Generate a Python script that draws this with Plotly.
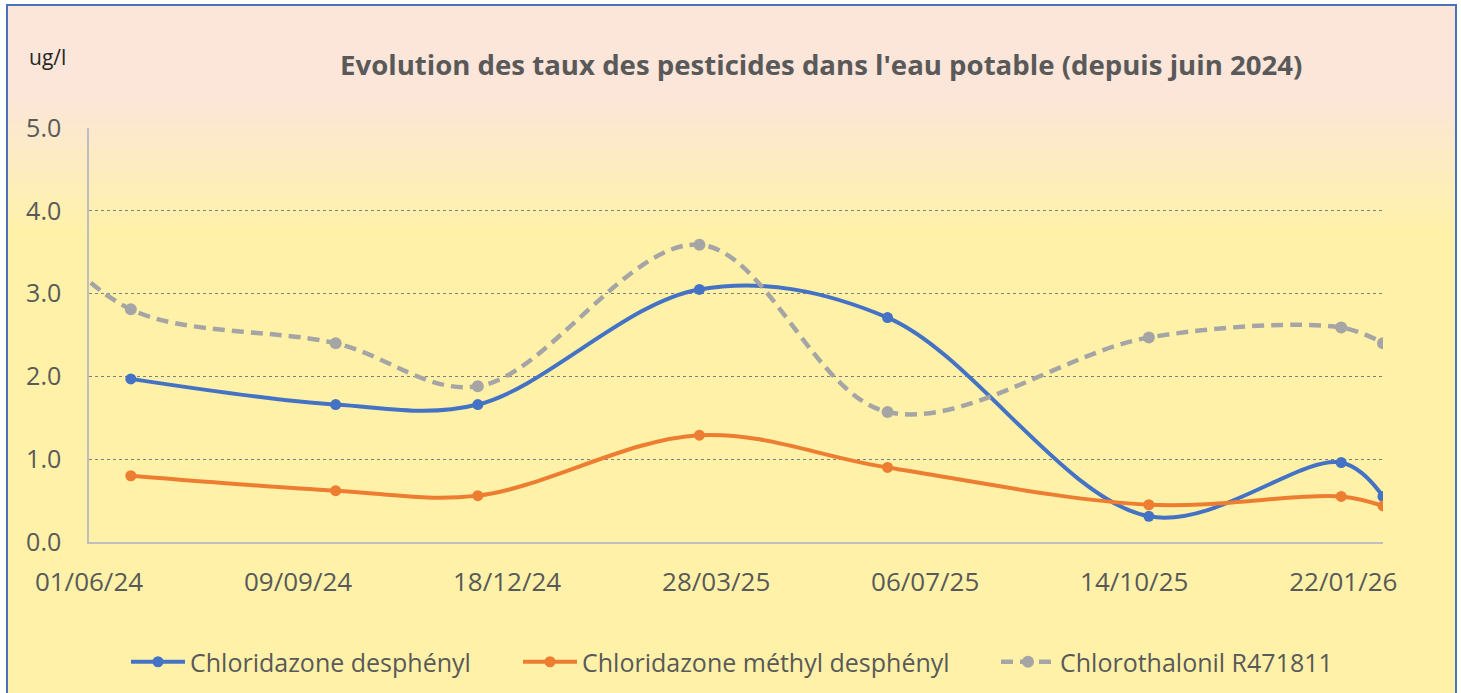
import base64, struct, zlib
import plotly.graph_objects as go

# ---------------- data ----------------
dates = ["2024-06-21", "2024-09-27", "2024-12-04", "2025-03-20",
         "2025-06-18", "2025-10-21", "2026-01-21", "2026-02-10"]
chloridazone_desphenyl = [1.97, 1.66, 1.66, 3.05, 2.71, 0.31, 0.96, 0.55]
chloridazone_methyl = [0.80, 0.62, 0.56, 1.29, 0.90, 0.45, 0.55, 0.435]
chlorothalonil_dates = ["2024-05-01"] + dates
chlorothalonil = [3.95, 2.81, 2.40, 1.88, 3.59, 1.57, 2.47, 2.59, 2.40]

tick_dates = ["2024-06-01", "2024-09-09", "2024-12-18", "2025-03-28",
              "2025-07-06", "2025-10-14", "2026-01-22"]
tick_labels = ["01/06/24", "09/09/24", "18/12/24", "28/03/25",
               "06/07/25", "14/10/25", "22/01/26"]
y_ticks = [0, 1, 2, 3, 4, 5]
y_labels = ["0.0", "1.0", "2.0", "3.0", "4.0", "5.0"]

names = ["Chloridazone desphényl", "Chloridazone méthyl desphényl", "Chlorothalonil R471811"]

# ---------------- geometry ----------------
W, H = 1461, 693
L, R, T, B = 89, 78, 128, 151
PW, PH = W - L - R, H - T - B

def px(X):
    return (X - L) / PW

def py(Y):
    return (H - B - Y) / PH

FONT = "Open Sans"
GREY_TXT = "#595959"

# ---------------- gradient background as PNG ----------------
def gradient_png(h):
    top = (251, 230, 217)
    bot = (255, 242, 168)
    rows = b""
    for i in range(h):
        Y = 5 + i
        if Y <= 95:
            t = 0.0
        elif Y >= 235:
            t = 1.0
        else:
            t = (Y - 95) / 140.0
        c = [int(round(top[k] + (bot[k] - top[k]) * t)) for k in range(3)]
        rows += b"\x00" + bytes(c)
    def chunk(tag, data):
        return struct.pack(">I", len(data)) + tag + data + struct.pack(">I", zlib.crc32(tag + data) & 0xffffffff)
    png = b"\x89PNG\r\n\x1a\n"
    png += chunk(b"IHDR", struct.pack(">IIBBBBB", 1, h, 8, 2, 0, 0, 0))
    png += chunk(b"IDAT", zlib.compress(rows))
    png += chunk(b"IEND", b"")
    return "data:image/png;base64," + base64.b64encode(png).decode()

bg_h = H - 5 + 10

fig = go.Figure()

fig.add_trace(go.Scatter(
    x=dates, y=chloridazone_desphenyl, name=names[0], mode="lines+markers",
    line=dict(color="#4472C4", width=4, shape="spline", smoothing=1),
    marker=dict(size=11, color="#4472C4"), legend="legend"))
fig.add_trace(go.Scatter(
    x=dates, y=chloridazone_methyl, name=names[1], mode="lines+markers",
    line=dict(color="#ED7D31", width=4, shape="spline", smoothing=1),
    marker=dict(size=11, color="#ED7D31"), legend="legend2"))
fig.add_trace(go.Scatter(
    x=chlorothalonil_dates, y=chlorothalonil, name=names[2], mode="lines+markers",
    line=dict(color="#A5A5A5", width=4.5, shape="spline", smoothing=1, dash="12px,7px"),
    marker=dict(size=12, color="#A5A5A5"), legend="legend3"))

leg_common = dict(orientation="h", yanchor="middle", xanchor="left", y=py(662),
                  font=dict(family=FONT, size=25, color=GREY_TXT),
                  bgcolor="rgba(0,0,0,0)", itemwidth=54)

fig.update_layout(
    width=W, height=H,
    margin=dict(l=L, r=R, t=T, b=B, autoexpand=False),
    paper_bgcolor="white",
    plot_bgcolor="rgba(0,0,0,0)",
    font=dict(family=FONT, color=GREY_TXT),
    showlegend=True,
    legend=dict(x=px(126), **leg_common),
    legend2=dict(x=px(518), **leg_common),
    legend3=dict(x=px(996), **leg_common),
    xaxis=dict(
        type="date", range=["2024-06-01", "2026-02-10"],
        tickvals=tick_dates, ticktext=tick_labels,
        tickfont=dict(family=FONT, size=26, color=GREY_TXT),
        showgrid=False, zeroline=False, automargin=False,
        showline=True, linecolor="#BFBFBF", linewidth=1.5,
        ticks="", ticklabelstandoff=16,
    ),
    yaxis=dict(
        range=[0, 5], tickvals=y_ticks, ticktext=y_labels,
        tickfont=dict(family=FONT, size=25, color=GREY_TXT),
        showgrid=True, gridcolor="#7F7F7F", gridwidth=1, griddash="dot",
        zeroline=False, showline=True, linecolor="#BFBFBF", linewidth=1.5,
        ticks="", ticklabelstandoff=21, automargin=False,
    ),
    images=[dict(source=gradient_png(bg_h), xref="paper", yref="paper",
                 x=px(7), y=py(5), sizex=px(1456) - px(7), sizey=py(5) - py(5 + bg_h),
                 xanchor="left", yanchor="top", sizing="stretch", layer="below")],
    shapes=[dict(type="rect", xref="paper", yref="paper",
                 x0=px(7), x1=px(1456), y0=py(5), y1=py(H + 10),
                 line=dict(color="#4A72B8", width=2), fillcolor="rgba(0,0,0,0)",
                 layer="above")],
    annotations=[
        dict(text="<b>Evolution des taux des pesticides dans l'eau potable (depuis juin 2024)</b>",
             xref="paper", yref="paper", x=px(821), y=py(64), xanchor="center", yanchor="middle",
             showarrow=False, font=dict(family=FONT, size=27.6, color=GREY_TXT)),
        dict(text="ug/l", xref="paper", yref="paper", x=px(47), y=py(57),
             xanchor="center", yanchor="middle", showarrow=False,
             font=dict(family=FONT, size=21, color="#262626")),
    ],
)

fig.write_html(
    "out.html",
    config={"displayModeBar": False},
    post_script="document.body.style.margin='0';document.body.style.overflow='hidden';",
)
